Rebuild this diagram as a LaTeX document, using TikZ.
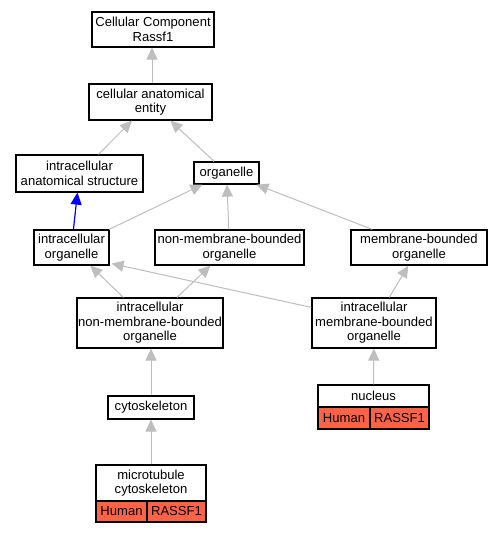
\documentclass[tikz,border=0pt]{standalone}
\usepackage{fontspec}
\setmainfont{Liberation Sans}
\usetikzlibrary{arrows.meta}
\definecolor{edgegray}{RGB}{190,190,190}
\definecolor{tomatored}{RGB}{255,99,71}
\begin{document}
\begin{tikzpicture}[x=1bp,y=-1bp,
  box/.style={draw=black, line width=1.2bp, fill=white, inner sep=0pt, align=center,
    font=\fontsize{13.1}{14.6}\selectfont},
  cell/.style={box, fill=tomatored},
  edge/.style={draw=edgegray, line width=1bp, -{Triangle[length=12bp,width=11bp]}},
  isa/.style={edge, draw=blue, line width=1.2bp}]
\useasboundingbox[fill=white] (0,0) rectangle (491,533);
\node[box, minimum width=122bp, minimum height=35bp] (ccr) at (153,29.5) {Cellular Component\\Rassf1};
\node[box, minimum width=123bp, minimum height=36bp] (cae) at (150.5,102) {cellular anatomical\\entity};
\node[box, minimum width=127bp, minimum height=37bp] (ias) at (79.5,173.5) {intracellular\\anatomical structure};
\node[box, minimum width=65bp, minimum height=22bp] (org) at (226.5,173) {organelle};
\node[box, minimum width=75bp, minimum height=35bp] (io) at (71.5,247.5) {intracellular\\organelle};
\node[box, minimum width=149bp, minimum height=35bp] (nmbo) at (229.5,247.5) {non-membrane-bounded\\organelle};
\node[box, minimum width=136bp, minimum height=35bp] (mbo) at (419,247.5) {membrane-bounded\\organelle};
\node[box, minimum width=146bp, minimum height=50bp] (inmbo) at (150,323) {intracellular\\non-membrane-bounded\\organelle};
\node[box, minimum width=124bp, minimum height=50bp] (imbo) at (374,323) {intracellular\\membrane-bounded\\organelle};
\node[box, minimum width=86bp, minimum height=23bp] (cyto) at (151,407.5) {cytoskeleton};
% nucleus table
\node[box, minimum width=111bp, minimum height=22bp] (nuc) at (373.5,396) {nucleus};
\node[cell, minimum width=52bp, minimum height=22bp] (nuch) at (344,418) {Human};
\node[cell, minimum width=59bp, minimum height=22bp] (nucr) at (399.5,418) {RASSF1};
% microtubule cytoskeleton table
\node[box, minimum width=110bp, minimum height=36bp] (mtc) at (151,483) {microtubule\\cytoskeleton};
\node[cell, minimum width=51bp, minimum height=21bp] (mtch) at (121.5,511.5) {Human};
\node[cell, minimum width=59bp, minimum height=21bp] (mtcr) at (176.5,511.5) {RASSF1};
% edges
\draw[edge] ([xshift=1.5bp]cae.north) -- ([xshift=-1bp]ccr.south);
\draw[edge] (ias) -- (cae);
\draw[edge] (org) -- (cae);
\draw[isa] (io) -- (ias);
\draw[edge] (io) -- (org);
\draw[edge] (nmbo) -- (org);
\draw[edge] (mbo) -- (org);
\draw[edge] (inmbo) -- (io);
\draw[edge] (inmbo) -- (nmbo);
\draw[edge] ([yshift=-10bp]imbo.north west) -- ([xshift=2bp,yshift=2bp]io.south east);
\draw[edge] (imbo) -- (mbo);
\draw[edge] ([xshift=1bp]inmbo.south |- cyto.north) -- ([xshift=1bp]inmbo.south);
\draw[edge] (nuc) -- (imbo);
\draw[edge] (mtc) -- (cyto);
\end{tikzpicture}
\end{document}
